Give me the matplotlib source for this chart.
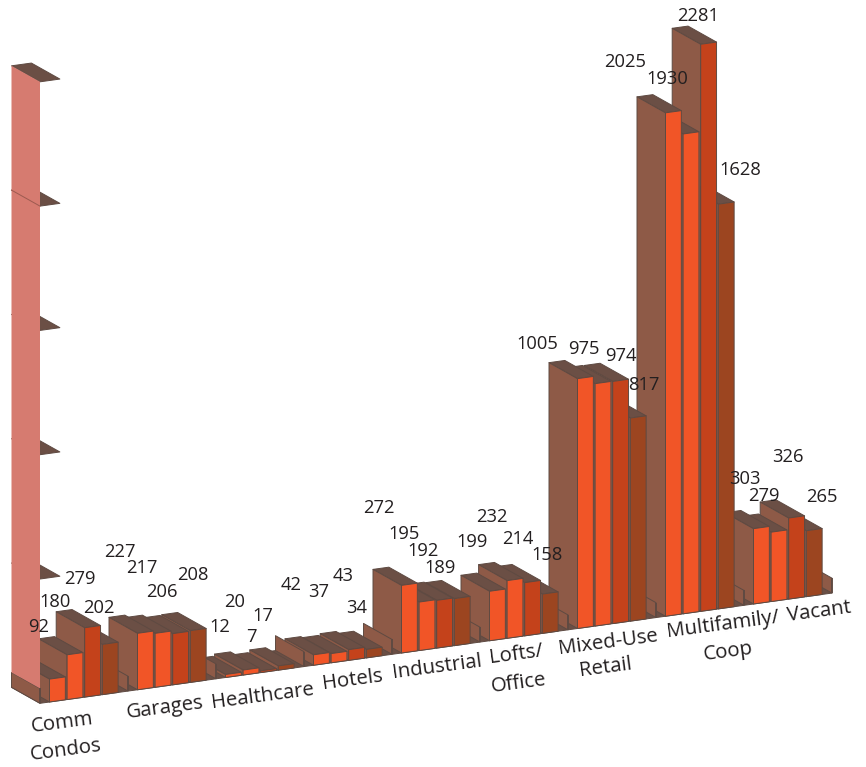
import matplotlib
matplotlib.use("Agg")
import matplotlib.pyplot as plt
from matplotlib.patches import Polygon

plt.rcParams['font.family'] = ['Open Sans', 'DejaVu Sans']

# data
categories = ['Comm\nCondos', 'Garages', 'Healthcare', 'Hotels', 'Industrial',
              'Lofts/\nOffice', 'Mixed-Use\nRetail', 'Multifamily/\nCoop', 'Vacant']
comm_condos = [92, 180, 279, 202]
garages = [227, 217, 206, 208]
healthcare = [12, 20, 7, 17]
hotels = [42, 37, 43, 34]
industrial = [272, 195, 192, 189]
lofts_office = [199, 232, 214, 158]
mixed_use = [1005, 975, 974, 817]
multifamily = [2025, 1930, 2281, 1628]
vacant = [303, 279, 326, 265]
groups = [comm_condos, garages, healthcare, hotels, industrial,
          lofts_office, mixed_use, multifamily, vacant]
axis_ticks = [500, 1000, 1500, 2000, 2500]
divider_height = 60

# where the number labels sit in the picture, in group order
label_xy = [(39, 627), (55, 602), (80, 579), (99, 608),
            (120, 552), (142, 568), (162, 592), (193, 575),
            (220, 627), (235, 602), (251, 637), (263, 616),
            (291, 585), (319, 592), (343, 576), (357, 608),
            (379, 508), (404, 534), (423, 551), (440, 568),
            (472, 542), (492, 517), (518, 539), (547, 555),
            (537, 344), (584, 349), (621, 356), (644, 385),
            (625, 62), (667, 79), (698, 16), (740, 170),
            (745, 479), (764, 496), (788, 457), (822, 497)]
cat_xy = [[(62, 723), (66, 750)], [(165, 708)], [(263, 696)], [(353, 680)], [(437, 667)],
          [(516, 655), (519, 683)], [(608, 642), (606, 668)], [(723, 625), (728, 652)], [(819, 612)]]

# oblique projection
X0, Y0 = 49.5, 702.0
SLOT_DX, SLOT_DY = 17.6, -2.45
DEPTH_DX, DEPTH_DY = -28.5, -16.0
PX_PER_UNIT = 0.2486
BAR_W = 0.9
WALL_OFFSET = -0.54

front_cols = ['#F15527', '#F15527', '#C4421B', '#9C4520']
side_col = '#8E5A47'
top_col = '#6B4F45'
edge_col = '#5E4A42'
pink = '#D67B70'
txt_col = '#231F20'


def proj(slot, value, depth=0):
    return (X0 + SLOT_DX * slot + DEPTH_DX * depth,
            Y0 + SLOT_DY * slot + DEPTH_DY * depth - PX_PER_UNIT * value)


def face(ax, pts, col, lw=0.7, ec=edge_col):
    ax.add_patch(Polygon(pts, closed=True, facecolor=col, edgecolor=ec, linewidth=lw, joinstyle='round'))


def draw_bar(ax, s, v):
    face(ax, [proj(s, v), proj(s + BAR_W, v), proj(s + BAR_W, v, 1), proj(s, v, 1)], top_col)
    face(ax, [proj(s, 0), proj(s, v), proj(s, v, 1), proj(s, 0, 1)], side_col)


def draw_wall(ax, s, v, col=side_col):
    face(ax, [proj(s, 0), proj(s, v), proj(s, v, 1), proj(s, 0, 1)], col)
    # the front edge of the dividers is heavier
    ax.plot(*zip(proj(s, 0), proj(s, v)), color=edge_col, lw=1.3, solid_capstyle='butt')


fig = plt.figure(figsize=(8.66, 7.67), dpi=100)
ax = fig.add_axes([0, 0, 1, 1])
ax.set_xlim(0, 866)
ax.set_ylim(767, 0)
ax.axis('off')

# floor
n_slots = 5 * len(groups)
face(ax, [proj(WALL_OFFSET, 0), proj(n_slots + WALL_OFFSET, 0),
          proj(n_slots + WALL_OFFSET, 0, 1), proj(WALL_OFFSET, 0, 1)], top_col)

# right to left, the left bars hide the ones behind them
for g in range(len(groups) - 1, -1, -1):
    draw_wall(ax, 5 * (g + 1) + WALL_OFFSET, divider_height)
    for b in range(3, -1, -1):
        s = 5 * g + b
        v = groups[g][b]
        draw_bar(ax, s, v)
        face(ax, [proj(s, 0), proj(s + BAR_W, 0), proj(s + BAR_W, v), proj(s, v)], front_cols[b])

# value axis wall with its shelves
for t in axis_ticks:
    s = WALL_OFFSET
    face(ax, [proj(s, t), proj(s + 1.13, t), proj(s + 1.13, t, 1), proj(s, t, 1)], top_col)
s = WALL_OFFSET
draw_wall(ax, s, divider_height)
ax.add_patch(Polygon([proj(s, divider_height), proj(s, axis_ticks[-1]),
                      proj(s, axis_ticks[-1], 1), proj(s, divider_height, 1)],
                     closed=True, facecolor=pink, edgecolor='none'))
ax.plot(*zip(proj(s, axis_ticks[3]), proj(s, axis_ticks[3], 1)), color='#9C5A50', lw=0.7)

# number labels
flat = [v for grp in groups for v in grp]
for v, (x, y) in zip(flat, label_xy):
    ax.text(x, y, str(v), ha='center', va='center', fontsize=13.2, color=txt_col)

# category labels, tilted along the floor
for name, places in zip(categories, cat_xy):
    for line, (x, y) in zip(name.split('\n'), places):
        ax.text(x, y, line, ha='center', va='center', rotation=7.5, rotation_mode='anchor',
                fontsize=14.7, color=txt_col)

fig.savefig('out.png', dpi=100)
